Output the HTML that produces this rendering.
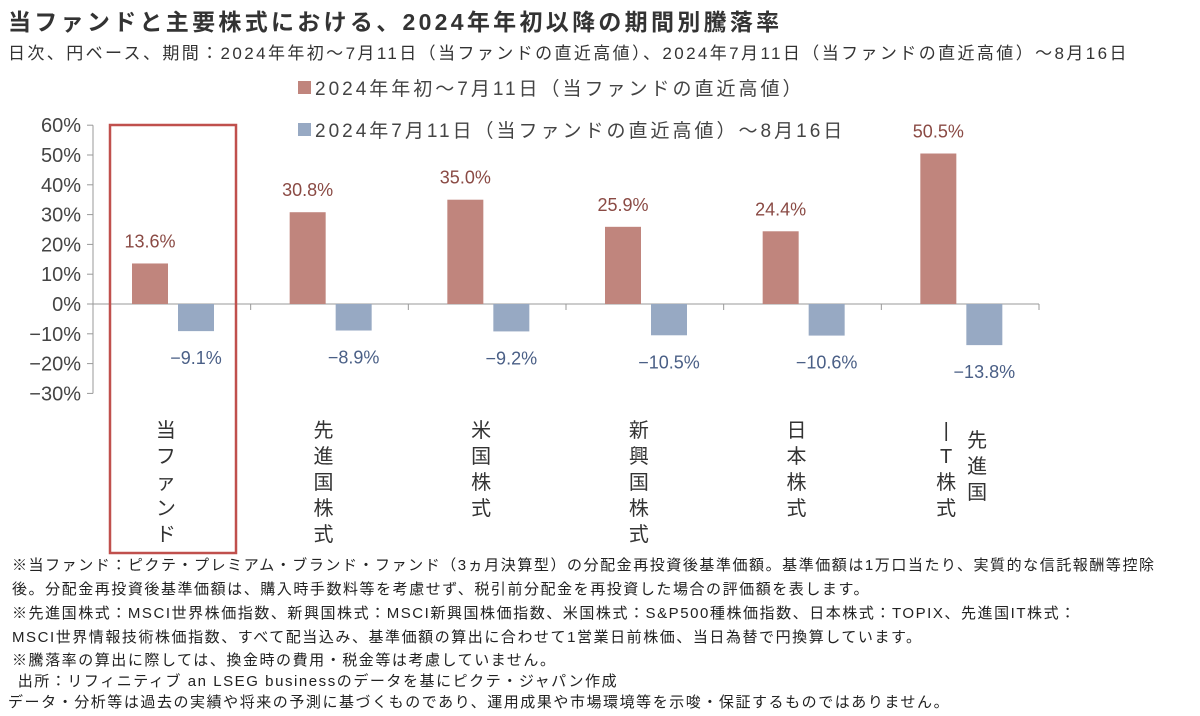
<!DOCTYPE html>
<html><head><meta charset="utf-8"><style>
body{margin:0;width:1200px;height:716px;background:#fff;overflow:hidden;font-family:"Liberation Sans","Noto Sans CJK JP",sans-serif;color:#333}
.t{position:absolute;white-space:nowrap}
</style></head><body>
<div class="t" style="left:8px;top:3px;font-size:23px;letter-spacing:3.3px;font-weight:bold;color:#333">当ファンドと主要株式における、2024年年初以降の期間別騰落率</div>
<div class="t" style="left:8px;top:39px;font-size:17px;letter-spacing:2.4px;color:#333">日次、円ベース、期間：2024年年初～7月11日（当ファンドの直近高値）、2024年7月11日（当ファンドの直近高値）～8月16日</div>
<svg id="c" width="1200" height="716" style="position:absolute;left:0;top:0"></svg>
<div style="position:absolute;left:12px;top:554px;font-size:15px;letter-spacing:1.55px;line-height:24px;color:#222">
<div>※当ファンド：ピクテ・プレミアム・ブランド・ファンド（3ヵ月決算型）の分配金再投資後基準価額。基準価額は1万口当たり、実質的な信託報酬等控除</div>
<div>後。分配金再投資後基準価額は、購入時手数料等を考慮せず、税引前分配金を再投資した場合の評価額を表します。</div>
<div>※先進国株式：MSCI世界株価指数、新興国株式：MSCI新興国株価指数、米国株式：S&amp;P500種株価指数、日本株式：TOPIX、先進国IT株式：</div>
<div>MSCI世界情報技術株価指数、すべて配当込み、基準価額の算出に合わせて1営業日前株価、当日為替で円換算しています。</div>
<div style="line-height:22px">※騰落率の算出に際しては、換金時の費用・税金等は考慮していません。</div>
<div style="line-height:20px">&nbsp;出所：リフィニティブ an LSEG businessのデータを基にピクテ・ジャパン作成</div>
<div style="line-height:22px;margin-left:-4px">データ・分析等は過去の実績や将来の予測に基づくものであり、運用成果や市場環境等を示唆・保証するものではありません。</div>
</div>
<script>
const categories=["当ファンド","先進国株式","米国株式","新興国株式","日本株式","先進国IT株式"];
const series1=[13.6,30.8,35.0,25.9,24.4,50.5];
const series2=[-9.1,-8.9,-9.2,-10.5,-10.6,-13.8];
const ticks=[60,50,40,30,20,10,0,-10,-20,-30];
const legendLabels=["2024年年初～7月11日（当ファンドの直近高値）","2024年7月11日（当ファンドの直近高値）～8月16日"];
const NS="http://www.w3.org/2000/svg";
const svg=document.getElementById('c');
const x0=93,x1=1039,cw=(x1-x0)/categories.length;
const y=v=>304-v*2.98;
function el(tag,attrs,txt){const e=document.createElementNS(NS,tag);for(const k in attrs)e.setAttribute(k,attrs[k]);if(txt!==undefined)e.textContent=txt;svg.appendChild(e);return e;}
let a=el('line',{x1:x0,x2:x0,y1:y(60),y2:y(-30),stroke:'#999','stroke-width':1});


ticks.forEach(t=>{
 let l=el('line',{x1:x0-6,x2:x0,y1:y(t),y2:y(t),stroke:'#999'});
 
 
 let tx=el('text',{x:x0-12,y:y(t)+7,'text-anchor':'end','font-size':20,fill:'#444'},(t<0?'−'+(-t):t)+'%');
 
 
});
let xa=el('line',{x1:x0,x2:x1,y1:y(0),y2:y(0),stroke:'#999'});


for(let i=1;i<=categories.length;i++){
 let l=el('line',{x1:x0+cw*i,x2:x0+cw*i,y1:y(0),y2:y(0)+6,stroke:'#999'});
 
 
}
categories.forEach((c,i)=>{
 const cx=x0+cw*i;
 const v1=series1[i],v2=series2[i];
 let b1=el('rect',{x:cx+39,y:y(v1),width:36,height:y(0)-y(v1),fill:'#c0857d'});
 
 
 let b2=el('rect',{x:cx+85,y:y(0),width:36,height:y(v2)-y(0),fill:'#97a9c3'});
 
 
 let t1=el('text',{x:cx+57,y:y(v1)-16,'text-anchor':'middle','font-size':18,fill:'#8a4a44'},v1.toFixed(1)+'%');
 
 
 let t2=el('text',{x:cx+103,y:y(v2)+33,'text-anchor':'middle','font-size':18,fill:'#4a5f86'},'−'+(-v2).toFixed(1)+'%');
 
 
 const mid=cx+cw/2-6;
 if(c==="先進国IT株式"){
  const colA=["先","進","国"],colB=["|","T","株","式"];
  colA.forEach((ch,j)=>{let t=el('text',{x:mid+23,y:447+j*26,'text-anchor':'middle','font-size':20,fill:'#333'},ch);});
  colB.forEach((ch,j)=>{let t=el('text',{x:mid-8,y:437+j*26,'text-anchor':'middle','font-size':20,fill:'#333'},ch);});
 } else {
  [...c].forEach((ch,j)=>{let t=el('text',{x:mid,y:437+j*26,'text-anchor':'middle','font-size':20,fill:'#333'},ch);});
 }
});
let hb=el('rect',{x:110,y:125,width:126,height:428,fill:'none',stroke:'#c0504d','stroke-width':2.5});


const lc=['#c0857d','#97a9c3'];
legendLabels.forEach((s,i)=>{
 let r=el('rect',{x:298,y:81+i*42,width:13,height:13,fill:lc[i]});
 
 
 let t=el('text',{x:315,y:95+i*42,'font-size':19,'letter-spacing':3,fill:'#444'},s);
 
 
});
</script>
</body></html>
